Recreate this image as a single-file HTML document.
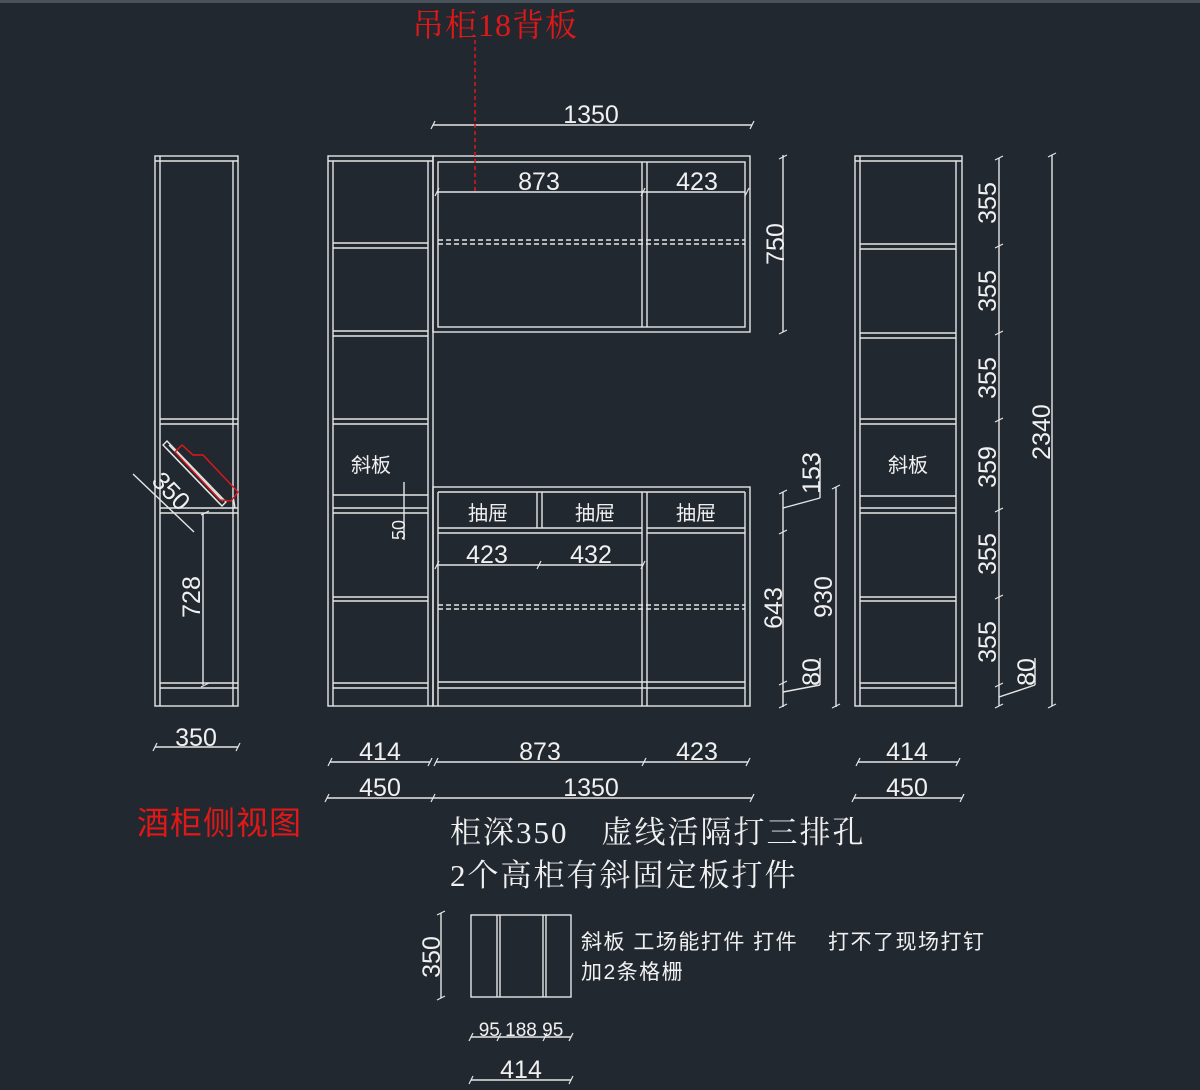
<!DOCTYPE html>
<html><head><meta charset="utf-8"><style>
html,body{margin:0;padding:0;background:#212830;}
svg{display:block}
</style></head><body>
<svg width="1200" height="1090" viewBox="0 0 1200 1090" xmlns="http://www.w3.org/2000/svg">
<rect width="1200" height="1090" fill="#212830"/>
<rect width="1200" height="3" fill="#4a525c"/>
<g stroke="#e6e6e6" stroke-width="1.4" fill="none">
<rect x="155" y="156" width="83" height="550"/>
<line x1="160" y1="156" x2="160" y2="706"/><line x1="233" y1="161" x2="233" y2="706"/>
<line x1="155" y1="161" x2="238" y2="161"/>
<line x1="160" y1="419" x2="238" y2="419"/><line x1="160" y1="424" x2="238" y2="424"/>
<line x1="160" y1="508" x2="238" y2="508"/><line x1="160" y1="513" x2="238" y2="513"/>
<line x1="160" y1="683" x2="238" y2="683"/><line x1="160" y1="688" x2="238" y2="688"/>
<polygon points="163,445 167,441 226,502 222,506"/>
<line x1="166" y1="448" x2="220" y2="504"/><line x1="169" y1="445" x2="223" y2="501"/>
<line x1="233" y1="496" x2="235" y2="508"/>
<line x1="133" y1="474" x2="194" y2="532"/>
<line x1="203" y1="513" x2="203" y2="685"/>
<rect x="328" y="156" width="105" height="550"/>
<line x1="333" y1="161" x2="333" y2="706"/><line x1="428" y1="161" x2="428" y2="706"/>
<line x1="328" y1="161" x2="433" y2="161"/>
<g>
<line x1="333" y1="243" x2="428" y2="243"/><line x1="333" y1="248" x2="428" y2="248"/>
<line x1="333" y1="331" x2="428" y2="331"/><line x1="333" y1="336" x2="428" y2="336"/>
<line x1="333" y1="419" x2="428" y2="419"/><line x1="333" y1="424" x2="428" y2="424"/>
<line x1="333" y1="495" x2="428" y2="495"/>
<line x1="333" y1="508" x2="428" y2="508"/><line x1="333" y1="513" x2="428" y2="513"/>
<line x1="333" y1="597" x2="428" y2="597"/><line x1="333" y1="601" x2="428" y2="601"/>
<line x1="333" y1="683" x2="428" y2="683"/><line x1="333" y1="688" x2="428" y2="688"/>
</g>
<line x1="404" y1="482" x2="404" y2="540"/>
<rect x="433" y="156" width="317" height="176"/>
<rect x="438" y="162" width="307" height="165"/>
<line x1="642" y1="162" x2="642" y2="327"/><line x1="647" y1="162" x2="647" y2="327"/>
<line x1="437" y1="192" x2="745" y2="192"/>
<line x1="438" y1="240" x2="745" y2="240" stroke-dasharray="5,3"/>
<line x1="438" y1="244" x2="745" y2="244" stroke-dasharray="5,3"/>
<line x1="433" y1="125" x2="752" y2="125"/>
<line x1="783" y1="155" x2="783" y2="332"/>
<rect x="433" y="487" width="317" height="219"/>
<line x1="438" y1="492" x2="745" y2="492"/>
<line x1="438" y1="492" x2="438" y2="706"/><line x1="745" y1="492" x2="745" y2="706"/>
<line x1="438" y1="528" x2="642" y2="528"/><line x1="438" y1="533" x2="642" y2="533"/>
<line x1="647" y1="528" x2="745" y2="528"/><line x1="647" y1="533" x2="745" y2="533"/>
<line x1="537" y1="492" x2="537" y2="528"/><line x1="542" y1="492" x2="542" y2="528"/>
<line x1="642" y1="492" x2="642" y2="706"/><line x1="647" y1="492" x2="647" y2="706"/>
<line x1="437" y1="565" x2="643" y2="565"/>
<line x1="438" y1="605" x2="745" y2="605" stroke-dasharray="5,3"/>
<line x1="438" y1="609" x2="745" y2="609" stroke-dasharray="5,3"/>
<line x1="438" y1="682" x2="745" y2="682"/><line x1="438" y1="688" x2="745" y2="688"/>
<line x1="783" y1="492" x2="783" y2="707"/>
<line x1="783" y1="508" x2="820" y2="498"/><line x1="820" y1="498" x2="820" y2="458"/>
<line x1="783" y1="692" x2="820" y2="685"/><line x1="820" y1="685" x2="820" y2="658"/>
<line x1="836" y1="487" x2="836" y2="707"/>
<rect x="855" y="156" width="107" height="550"/>
<line x1="860" y1="156" x2="860" y2="706"/><line x1="956" y1="161" x2="956" y2="706"/>
<line x1="855" y1="161" x2="962" y2="161"/>
<line x1="860" y1="244" x2="956" y2="244"/><line x1="860" y1="249" x2="956" y2="249"/>
<line x1="860" y1="333" x2="956" y2="333"/><line x1="860" y1="338" x2="956" y2="338"/>
<line x1="860" y1="419" x2="956" y2="419"/><line x1="860" y1="424" x2="956" y2="424"/>
<line x1="860" y1="496" x2="956" y2="496"/>
<line x1="860" y1="508" x2="956" y2="508"/><line x1="860" y1="513" x2="956" y2="513"/>
<line x1="860" y1="597" x2="956" y2="597"/><line x1="860" y1="601" x2="956" y2="601"/>
<line x1="860" y1="683" x2="956" y2="683"/><line x1="860" y1="688" x2="956" y2="688"/>
<line x1="999" y1="158" x2="999" y2="706"/>
<line x1="999" y1="697" x2="1035" y2="685"/><line x1="1035" y1="685" x2="1035" y2="658"/>
<line x1="1052" y1="155" x2="1052" y2="706"/>
<line x1="155" y1="747" x2="238" y2="747"/>
<line x1="330" y1="762" x2="430" y2="762"/><line x1="436" y1="762" x2="748" y2="762"/>
<line x1="327" y1="798" x2="752" y2="798"/>
<line x1="858" y1="762" x2="958" y2="762"/><line x1="854" y1="798" x2="962" y2="798"/>
<rect x="471" y="915" width="100" height="82"/>
<line x1="497" y1="915" x2="497" y2="997"/><line x1="500" y1="915" x2="500" y2="997"/>
<line x1="543" y1="915" x2="543" y2="997"/><line x1="546" y1="915" x2="546" y2="997"/>
<line x1="441" y1="913" x2="441" y2="998"/>
<line x1="471" y1="1037" x2="571" y2="1037"/>
<line x1="471" y1="1080" x2="571" y2="1080"/>
</g>
<g stroke="#e6e6e6" stroke-width="1.2">
<path d="M431 129l4-8M750 129l4-8M435 196l4-8M641 196l4-8M745 196l4-8M779 159l8-4M779 334l8-4M435 569l4-8M537 569l4-8M641 569l4-8M779 494l8-4M779 534l8-4M779 685l8-4M779 708l8-4M832 489l8-4M832 708l8-4M995 160l8-4M995 248l8-4M995 335l8-4M995 422l8-4M995 512l8-4M995 599l8-4M995 687l8-4M995 708l8-4M1048 157l8-4M1048 708l8-4M153 751l4-8M236 751l4-8M328 766l4-8M428 766l4-8M434 766l4-8M642 766l4-8M746 766l4-8M325 802l4-8M431 802l4-8M750 802l4-8M856 766l4-8M956 766l4-8M852 802l4-8M960 802l4-8M437 915l8-4M437 1000l8-4M469 1041l4-8M497 1041l4-8M543 1041l4-8M569 1041l4-8M469 1084l4-8M569 1084l4-8M201 515l8-4M201 687l8-4"/>
</g>
<polygon points="175,452 182,445 193,455 203,455 238,492 231,501 220,500" fill="none" stroke="#e01818" stroke-width="1.4"/>
<line x1="475" y1="40" x2="475" y2="192" stroke="#e01818" stroke-width="1.5" stroke-dasharray="4,3"/>
<g fill="#f0f0f0" font-family="'Liberation Sans',sans-serif" font-size="25" text-anchor="middle">
<text x="591" y="123">1350</text>
<text x="539" y="190">873</text>
<text x="697" y="190">423</text>
<text x="487" y="563">423</text>
<text x="591" y="563">432</text>
<text x="196" y="746">350</text>
<text x="380" y="760">414</text>
<text x="540" y="760">873</text>
<text x="697" y="760">423</text>
<text x="380" y="796">450</text>
<text x="591" y="796">1350</text>
<text x="907" y="760">414</text>
<text x="907" y="796">450</text>
<text x="521" y="1078">414</text>
<text x="521" y="1036" font-size="19">95 188 95</text>
<text transform="translate(784,244) rotate(-90)">750</text>
<text transform="translate(820,473) rotate(-90)">153</text>
<text transform="translate(782,608) rotate(-90)">643</text>
<text transform="translate(832,597) rotate(-90)">930</text>
<text transform="translate(820,672) rotate(-90)">80</text>
<text transform="translate(996,203) rotate(-90)">355</text>
<text transform="translate(996,291) rotate(-90)">355</text>
<text transform="translate(996,378) rotate(-90)">355</text>
<text transform="translate(996,467) rotate(-90)">359</text>
<text transform="translate(996,554) rotate(-90)">355</text>
<text transform="translate(996,642) rotate(-90)">355</text>
<text transform="translate(1035,672) rotate(-90)">80</text>
<text transform="translate(1050,432) rotate(-90)">2340</text>
<text transform="translate(200,597) rotate(-90)">728</text>
<text transform="translate(405,530) rotate(-90)" font-size="18">50</text>
<text transform="translate(440,957) rotate(-90)">350</text>
<text transform="translate(165,497) rotate(46)">350</text>
</g>
<g fill="#f0f0f0" font-family="'Liberation Sans','Noto Sans CJK SC',sans-serif" font-size="20" text-anchor="middle">
<text x="371" y="472">斜板</text>
<text x="908" y="472">斜板</text>
<text x="488" y="520">抽屉</text>
<text x="595" y="520">抽屉</text>
<text x="696" y="520">抽屉</text>
</g>
<g fill="#f0f0f0" font-family="'Liberation Sans','Noto Sans CJK SC',sans-serif" font-size="21" letter-spacing="1.5">
<text x="581" y="949">斜板 工场能打件 打件　 打不了现场打钉</text>
<text x="581" y="979">加2条格栅</text>
</g>
<g fill="#f0f0f0" font-family="'Liberation Serif','Noto Serif CJK SC',serif" font-size="31" letter-spacing="2">
<text x="450" y="843">柜深350　虚线活隔打三排孔</text>
<text x="450" y="886">2个高柜有斜固定板打件</text>
</g>
<text x="412" y="36" fill="#e01818" font-family="'Liberation Serif','Noto Serif CJK SC',serif" font-size="32" letter-spacing="1">吊柜18背板</text>
<text x="137" y="834" fill="#e01818" font-family="'Liberation Sans','Noto Sans CJK SC',sans-serif" font-size="32" letter-spacing="1">酒柜侧视图</text>
</svg>
</body></html>
